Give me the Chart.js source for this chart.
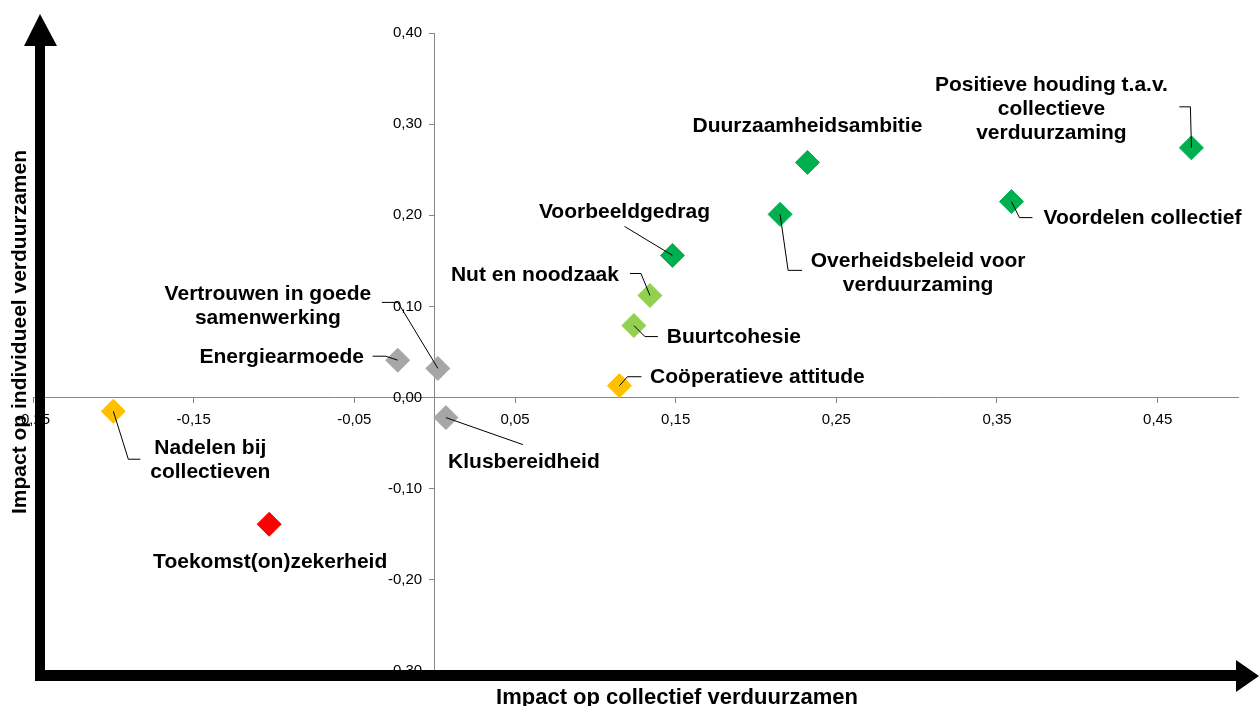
<!DOCTYPE html>
<html>
<head>
<meta charset="utf-8">
<script src="https://cdn.jsdelivr.net/npm/chart.js@4.4.1/dist/chart.umd.min.js"></script>
<style>
    html, body { margin: 0; padding: 0; background: #fff; }
    #wrap { width: 1259px; height: 706px; position: relative; }
</style>
</head>
<body>
<div id="wrap"><canvas id="impactChart"></canvas></div>
<script>
// factoren (namen, x = impact collectief, y = impact individueel)
const factors = [
    'Positieve houding t.a.v.\ncollectieve\nverduurzaming',
    'Duurzaamheidsambitie',
    'Voordelen collectief',
    'Overheidsbeleid voor\nverduurzaming',
    'Voorbeeldgedrag',
    'Nut en noodzaak',
    'Buurtcohesie',
    'Coöperatieve attitude',
    'Energiearmoede',
    'Vertrouwen in goede\nsamenwerking',
    'Klusbereidheid',
    'Nadelen bij\ncollectieven',
    'Toekomst(on)zekerheid'
];
const collectiefImpact = [0.471, 0.232, 0.359, 0.215, 0.148, 0.134, 0.124, 0.115, -0.023, 0.002, 0.007, -0.200, -0.103];
const individueelImpact = [0.274, 0.258, 0.215, 0.201, 0.156, 0.112, 0.079, 0.013, 0.041, 0.032, -0.022, -0.015, -0.139];
const factorColors = ['#00B050', '#00B050', '#00B050', '#00B050', '#00B050', '#92D050', '#92D050',
    '#FFC000', '#A6A6A6', '#A6A6A6', '#A6A6A6', '#FFC000', '#FF0000'];

const xTicks = [-0.25, -0.15, -0.05, 0.05, 0.15, 0.25, 0.35, 0.45];
const yTicks = [-0.30, -0.20, -0.10, 0.00, 0.10, 0.20, 0.30, 0.40];

// label plaatsing t.o.v. het punt (pixels) en verbindingslijntjes
const labelOffsets = [[-140, -63], [0, -36], [131, 17], [138, 47], [-48, -43], [-115, -20], [100, 12],
    [138, -9], [-116, -3], [-170, -74], [78, 45], [97, 37], [1, 38]];
const leaderLines = [
    [[-12, -41], [-1, -41], [0, 0]],
    [],
    [[0, 0], [8, 16], [21, 16]],
    [[0, 0], [8, 56], [22, 56]],
    [[-48, -29], [0, 0]],
    [[-20, -22], [-9, -22], [0, 0]],
    [[0, 0], [11, 11], [24, 11]],
    [[0, 0], [8, -9], [22, -9]],
    [[-25, -4], [-12, -4], [0, 0]],
    [[-56, -66], [-40, -66], [0, 0]],
    [[0, 0], [77, 27]],
    [[0, 0], [15, 48], [27, 48]],
    []
];

const FONT = '"Liberation Sans", Arial, sans-serif';
const AXIS_GREY = '#868686';

const fmt = v => v.toFixed(2).replace('.', ',');

const labelPlugin = {
    id: 'factorLabels',
    afterDatasetsDraw(chart) {
        const ctx = chart.ctx;
        const meta = chart.getDatasetMeta(0);
        ctx.save();
        ctx.strokeStyle = '#000';
        ctx.lineWidth = 1;
        meta.data.forEach((pt, i) => {
            const line = leaderLines[i];
            if (line.length) {
                ctx.beginPath();
                line.forEach(([dx, dy], j) => {
                    if (j === 0) ctx.moveTo(pt.x + dx, pt.y + dy);
                    else ctx.lineTo(pt.x + dx, pt.y + dy);
                });
                ctx.stroke();
            }
        });
        ctx.fillStyle = '#000';
        ctx.font = 'bold 21px ' + FONT;
        ctx.textAlign = 'center';
        ctx.textBaseline = 'middle';
        meta.data.forEach((pt, i) => {
            const [dx, dy] = labelOffsets[i];
            factors[i].split('\n').forEach((txt, k) => {
                ctx.fillText(txt, pt.x + dx, pt.y + dy + k * 24);
            });
        });
        ctx.restore();
    },
    afterDraw(chart) {
        const ctx = chart.ctx;
        ctx.save();
        ctx.fillStyle = '#000';
        // verticale pijl
        ctx.fillRect(35, 46, 10, 635);
        ctx.beginPath();
        ctx.moveTo(24, 46);
        ctx.lineTo(40, 14);
        ctx.lineTo(57, 46);
        ctx.closePath();
        ctx.fill();
        // horizontale pijl
        ctx.fillRect(38, 670, 1198, 11);
        ctx.beginPath();
        ctx.moveTo(1236, 660);
        ctx.lineTo(1259, 676);
        ctx.lineTo(1236, 692);
        ctx.closePath();
        ctx.fill();
        // as-titels
        ctx.font = 'bold 22px ' + FONT;
        ctx.textAlign = 'center';
        ctx.textBaseline = 'middle';
        ctx.fillText('Impact op collectief verduurzamen', 677, 698);
        ctx.translate(20, 332);
        ctx.rotate(-Math.PI / 2);
        ctx.font = 'bold 21px ' + FONT;
        ctx.fillText('Impact op individueel verduurzamen', 0, 0);
        ctx.restore();
    }
};

new Chart(document.getElementById('impactChart'), {
    type: 'scatter',
    data: {
        datasets: [{
            label: 'factoren',
            data: factors.map((_, i) => ({ x: collectiefImpact[i], y: individueelImpact[i] })),
            pointStyle: 'rectRot',
            pointRadius: 12,
            pointHoverRadius: 12,
            pointBackgroundColor: factorColors,
            pointBorderColor: factorColors,
            pointBorderWidth: 1
        }]
    },
    options: {
        responsive: true,
        maintainAspectRatio: false,
        animation: false,
        layout: { padding: { left: 33, top: 33, right: 21, bottom: 35 } },
        plugins: {
            legend: { display: false },
            tooltip: { enabled: false }
        },
        scales: {
            x: {
                type: 'linear',
                min: -0.25,
                max: 0.5,
                position: { y: 0 },
                afterBuildTicks: axis => { axis.ticks = xTicks.map(v => ({ value: v })); },
                grid: { drawOnChartArea: false, drawTicks: true, tickLength: 5, color: AXIS_GREY },
                border: { display: true, color: AXIS_GREY },
                ticks: {
                    color: '#000',
                    font: { family: FONT, size: 15 },
                    padding: 8,
                    maxRotation: 0,
                    callback: v => fmt(v)
                }
            },
            y: {
                type: 'linear',
                min: -0.3,
                max: 0.4,
                position: { x: 0 },
                afterBuildTicks: axis => { axis.ticks = yTicks.map(v => ({ value: v })); },
                grid: { drawOnChartArea: false, drawTicks: true, tickLength: 5, color: AXIS_GREY },
                border: { display: true, color: AXIS_GREY },
                ticks: {
                    color: '#000',
                    font: { family: FONT, size: 15 },
                    // label staat tegen de as aan, ruimte via spaties
                    callback: v => fmt(v) + '   '
                }
            }
        }
    },
    plugins: [labelPlugin]
});
</script>
</body>
</html>
